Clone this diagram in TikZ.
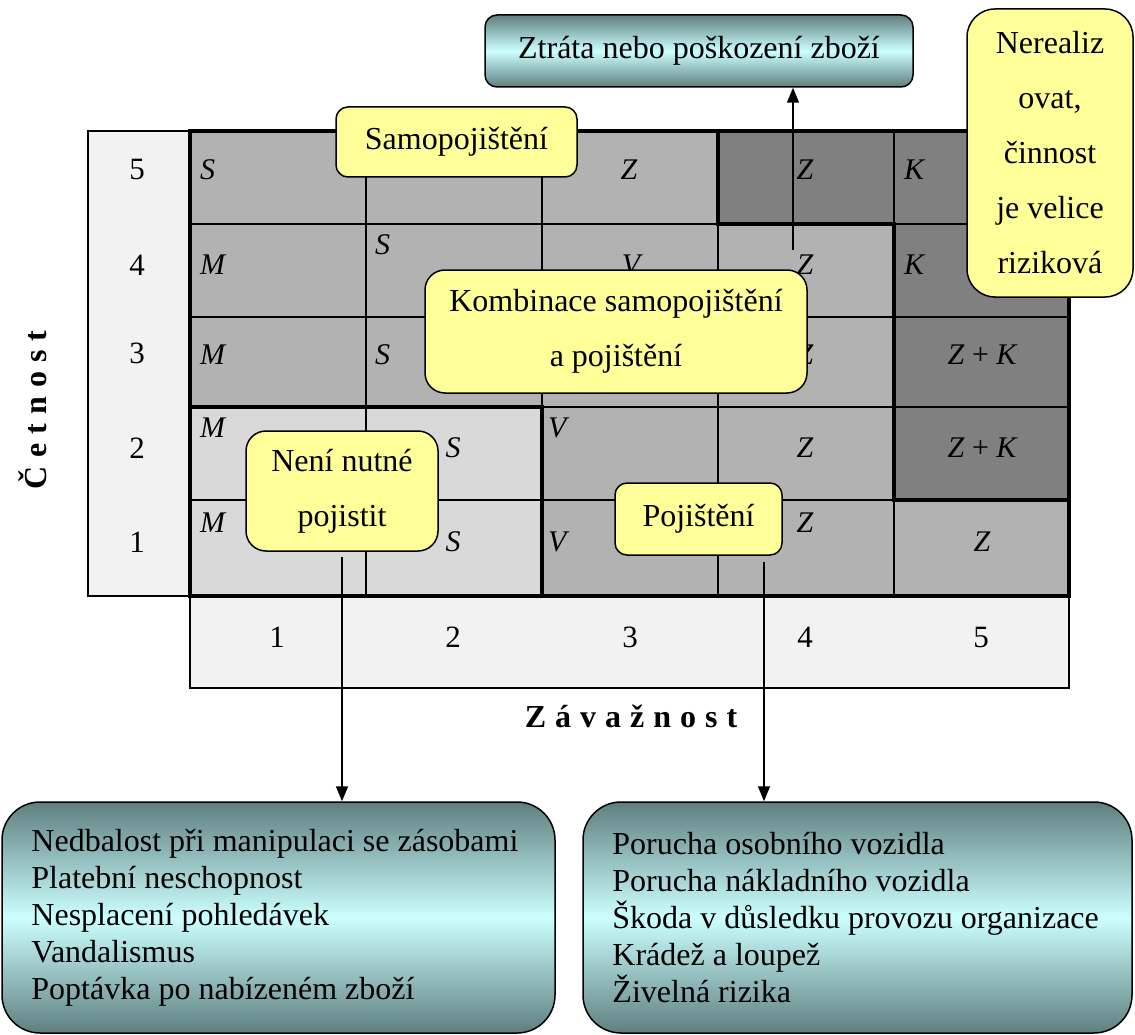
\documentclass[tikz,border=0pt]{standalone}
\usepackage{fontspec}
\setmainfont{Liberation Serif}
\usetikzlibrary{arrows.meta}
\definecolor{calloutyellow}{HTML}{FFFF99}
\definecolor{tealdark}{HTML}{5F7F7F}
\definecolor{teallight}{HTML}{CCFFFF}
\definecolor{celllight}{HTML}{D9D9D9}
\definecolor{cellmid}{HTML}{B2B2B2}
\definecolor{celldark}{HTML}{808080}
\definecolor{labelgray}{HTML}{F2F2F2}

\begin{document}
\begin{tikzpicture}[x=1pt,y=-1pt,
  thingrid/.style={line width=1.2pt},
  thickgrid/.style={line width=4pt},
  letter/.style={inner sep=0pt, font={\fontsize{30pt}{36pt}\selectfont\itshape}},
  num/.style={inner sep=0pt, font={\fontsize{31pt}{36pt}\selectfont}},
  axislabel/.style={inner sep=0pt, font={\fontsize{32pt}{36pt}\selectfont\bfseries\spaceskip=9pt}},
  callout/.style={draw, line width=1.5pt, fill=calloutyellow, align=center, inner sep=0pt,
    font={\fontsize{32pt}{55pt}\selectfont}},
  infobox/.style={draw, line width=1.5pt, top color=tealdark, bottom color=tealdark,
    middle color=teallight, inner sep=0pt, font={\fontsize{32pt}{37pt}\selectfont}},
  boxtext/.style={inner sep=0pt, align=left, font={\fontsize{32pt}{37pt}\selectfont}},
  arr/.style={line width=1.5pt, -{Triangle[width=12pt,length=15pt]}}]
\useasboundingbox (0,0) rectangle (1135,1035);

% label strips
\filldraw[fill=labelgray, line width=2pt] (88,131) rectangle (190,596);
\filldraw[fill=labelgray, line width=2pt] (190,596) rectangle (1069,688);

% cells
\fill[cellmid] (190,131) rectangle (1069,596);
\fill[celllight] (190,407) rectangle (542,596);
\fill[celldark] (718,131) rectangle (894,224);
\fill[celldark] (894,131) rectangle (1069,500);
\foreach \x in {366,542,718,894}
  \draw[thingrid] (\x,131) -- (\x,596);
\foreach \y in {224,317,407,500}
  \draw[thingrid] (190,\y) -- (1069,\y);
\draw[thickgrid] (190,131) rectangle (1069,596);
\draw[thickgrid] (190,407) -- (542,407) -- (542,596);
\draw[thickgrid] (718,131) -- (718,224) -- (894,224) -- (894,500) -- (1069,500);

% row 5
\node[letter, anchor=west] (c51) at (200,170) {S};
\node[letter] (c53) at (629,170) {Z};
\node[letter] (c54) at (805,170) {Z};
\node[letter, anchor=west] (c55) at (904,170) {K};
% row 4
\node[letter, anchor=west] (c41) at (200,265) {M};
\node[letter, anchor=west] (c42) at (375,245) {S};
\node[letter] (c43) at (631,265) {V};
\node[letter] (c44) at (805,265) {Z};
\node[letter, anchor=west] (c45) at (904,265) {K};
% row 3
\node[letter, anchor=west] (c31) at (200,355) {M};
\node[letter, anchor=west] (c32) at (375,355) {S};
\node[letter] (c34) at (805,355) {Z};
\node[letter] (c35) at (982,355) {Z \textup{+} K};
% row 2
\node[letter, anchor=west] (c21) at (200,428) {M};
\node[letter] (c22) at (453,448) {S};
\node[letter, anchor=west] (c23) at (548,428) {V};
\node[letter] (c24) at (805,448) {Z};
\node[letter] (c25) at (982,448) {Z \textup{+} K};
% row 1
\node[letter, anchor=west] (c11) at (200,523) {M};
\node[letter] (c12) at (453,542) {S};
\node[letter, anchor=west] (c13) at (548,542) {V};
\node[letter] (c14) at (805,523) {Z};
\node[letter] (c15) at (982,542) {Z};

% scales
\foreach \n/\y in {5/170,4/265,3/353,2/448,1/542}
  \node[num] (r\n) at (137,\y) {\n};
\foreach \n/\x in {1/277,2/453,3/630,4/805,5/981}
  \node[num] (s\n) at (\x,637) {\n};
\node[axislabel] (zav) at (631,716) {Z á v a ž n o s t};
\node[axislabel, rotate=90] (cet) at (33,410) {Č e t n o s t};

% callouts
\node[callout, rounded corners=12pt, minimum width=241pt, minimum height=70pt] (samo) at (456.5,142) {Samopojištění};
\node[callout, rounded corners=20pt, minimum width=382pt, minimum height=123pt] (komb) at (616,331.5) {Kombinace samopojištění\\a pojištění};
\node[callout, rounded corners=20pt, minimum width=192pt, minimum height=120pt] (neni) at (342,491) {Není nutné\\pojistit};
\node[callout, rounded corners=12pt, minimum width=167pt, minimum height=72pt] (poj) at (698.5,519) {Pojištění};
\node[callout, rounded corners=28pt, minimum width=166pt, minimum height=288pt] (nereal) at (1050,153) {Nerealiz\\ovat,\\činnost\\je velice\\riziková};

% consequences
\node[infobox, rounded corners=12pt, minimum width=428pt, minimum height=72pt] (ztrata) at (699,51) {Ztráta nebo poškození zboží};
\node[infobox, rounded corners=38pt, minimum width=553pt, minimum height=231pt] (lbox) at (278.5,917.5) {};
\node[infobox, rounded corners=38pt, minimum width=549pt, minimum height=231pt] (rbox) at (857.5,917.5) {};
\node[boxtext, anchor=west] (ltext) at ([xshift=30pt]lbox.west)
  {Nedbalost při manipulaci se zásobami\\Platební neschopnost\\Nesplacení pohledávek\\Vandalismus\\Poptávka po nabízeném zboží};
\node[boxtext, anchor=west] (rtext) at ([xshift=30pt]rbox.west)
  {Porucha osobního vozidla\\Porucha nákladního vozidla\\Škoda v důsledku provozu organizace\\Krádež a loupež\\Živelná rizika};

% arrows
\coordinate (a1) at (793,250);
\coordinate (a2) at (342,557);
\coordinate (a3) at (764,562);
\draw[arr] (a1) -- (a1 |- ztrata.south);
\draw[arr] (a2) -- (a2 |- lbox.north);
\draw[arr] (a3) -- (a3 |- rbox.north);
\end{tikzpicture}
\end{document}
